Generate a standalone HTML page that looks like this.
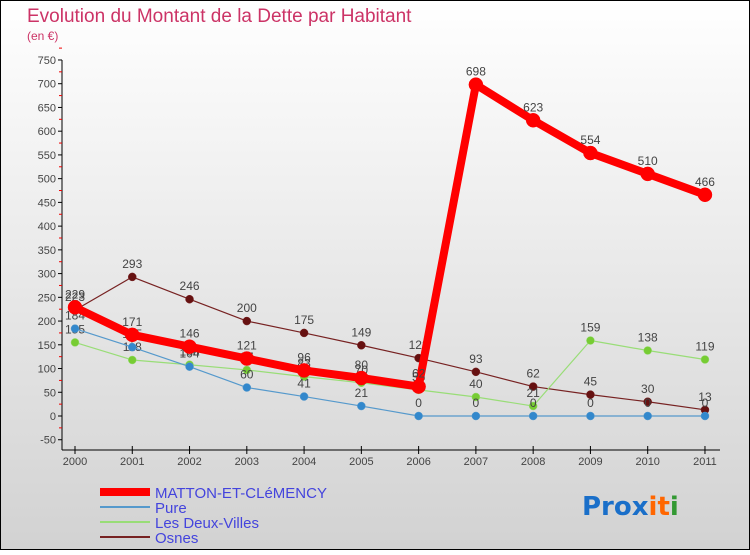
<!DOCTYPE html>
<html><head><meta charset="utf-8"><style>
html,body{margin:0;padding:0;}
body{width:750px;height:550px;overflow:hidden;font-family:"Liberation Sans",sans-serif;}
</style></head><body>
<svg id="chart" width="750" height="550" xmlns="http://www.w3.org/2000/svg">
<defs><linearGradient id="bg" x1="0" y1="0" x2="0" y2="1"><stop offset="0" stop-color="#ffffff"/><stop offset="1" stop-color="#d2d2d2"/></linearGradient></defs>
<rect x="0.5" y="0.5" width="749" height="549" fill="url(#bg)" stroke="#000" stroke-width="1"/>
<text x="27" y="22" font-size="19" fill="#cc3366">Evolution du Montant de la Dette par Habitant</text>
<text x="27" y="40" font-size="12" fill="#cc3366">(en €)</text>
<g id="axes"></g>
<g id="series"></g>
<g id="legend"></g>
<text x="582" y="515" font-size="26" font-weight="bold" font-family="DejaVu Sans, sans-serif"><tspan fill="#1a6fc9">Pro</tspan><tspan fill="#1a6fc9">x</tspan><tspan fill="#ff6600">i</tspan><tspan fill="#ff6600">t</tspan><tspan fill="#339933">i</tspan></text>
</svg>
<script>
const years=["2000","2001","2002","2003","2004","2005","2006","2007","2008","2009","2010","2011"];
const yTicks=[-50,0,50,100,150,200,250,300,350,400,450,500,550,600,650,700,750];
const matton=[229,171,146,121,96,80,62,698,623,554,510,466];
const pure=[184,145,104,60,41,21,0,0,0,0,0,0];
const deuxVilles=[155,118,108,97,83,70,55,40,21,159,138,119];
const osnes=[223,293,246,200,175,149,122,93,62,45,30,13];
const NS="http://www.w3.org/2000/svg";
function X(i){return 75+i*57.27;}
function Y(v){return 416-v*0.4747;}
function mk(tag,attrs,parent){const e=document.createElementNS(NS,tag);for(const k in attrs)e.setAttribute(k,attrs[k]);parent.appendChild(e);return e;}
const axes=document.getElementById('axes');
const ax=mk('line',{x1:62,y1:Y(750),x2:62,y2:450,stroke:'#000','stroke-width':1},axes);


const bx=mk('line',{x1:62,y1:450,x2:720,y2:450,stroke:'#000','stroke-width':1},axes);


yTicks.forEach(v=>{
  mk('line',{x1:58,y1:Y(v),x2:62,y2:Y(v),stroke:'#000'},axes);
  mk('line',{x1:59,y1:Y(v+25),x2:62,y2:Y(v+25),stroke:'#e00'},axes);
  const t=mk('text',{x:56,y:Y(v)+4,'font-size':11,fill:'#444','text-anchor':'end'},axes);
  t.textContent=v;
  
  
});
years.forEach((y,i)=>{
  mk('line',{x1:X(i),y1:446,x2:X(i),y2:454,stroke:'#000'},axes);
  const t=mk('text',{x:X(i),y:465,'font-size':11,fill:'#444','text-anchor':'middle'},axes);
  t.textContent=y;
  
  
});
const sg=document.getElementById('series');
function drawSeries(vals,color,w,r,name,dot){
  const g=mk('g',{},sg);
  
  
  mk('polyline',{points:vals.map((v,i)=>X(i)+','+Y(v)).join(' '),fill:'none',stroke:color,'stroke-width':w,'stroke-linejoin':'round'},g);
  vals.forEach((v,i)=>{
    const c=mk('circle',{cx:X(i),cy:Y(v),r:r,fill:dot,stroke:color,'stroke-width':0.5},g);
    
    
  });
  vals.forEach((v,i)=>{
    const t=mk('text',{x:X(i),y:Y(v)-9,'font-size':12,fill:'#444','text-anchor':'middle'},g);
    t.textContent=v;
    
    
  });
}
drawSeries(osnes,'#772222',1.2,4,'osnes-series','#661111');
drawSeries(deuxVilles,'#99dd77',1.2,4,'deux-villes-series','#77cc33');
drawSeries(pure,'#5599cc',1.2,4,'pure-series','#3388cc');
drawSeries(matton,'#ff0000',8,7,'matton-series','#ff0000');
const lg=document.getElementById('legend');
const entries=[["MATTON-ET-CLéMENCY","#ff0000",8],["Pure","#5599cc",2],["Les Deux-Villes","#99dd77",2],["Osnes","#772222",2]];
entries.forEach((e,i)=>{
  const g=mk('g',{},lg);
  
  
  const y=492+i*15;
  mk('line',{x1:100,y1:y,x2:150,y2:y,stroke:e[1],'stroke-width':e[2]},g);
  const t=mk('text',{x:155,y:y+6,'font-size':15,fill:'#4444dd'},g);
  t.textContent=e[0];
});
</script>
</body></html>
